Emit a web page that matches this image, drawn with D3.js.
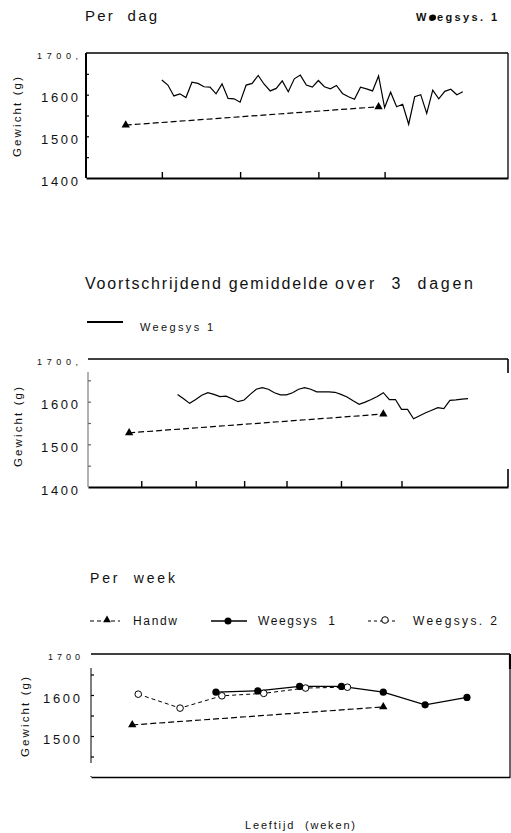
<!DOCTYPE html>
<html>
<head>
<meta charset="utf-8">
<script src="https://cdn.jsdelivr.net/npm/d3@7"></script>
<style>
body { margin: 0; background: #fff; }
svg { display: block; font-family: "Liberation Sans", Arial, sans-serif; }
</style>
</head>
<body>
<div id="chart"></div>
<script>
// days are counted from the first hand weighing (Handw)
const handwDays = [0, 42];
const handwValues = [1527, 1571];

// Weegsys 1, one value per day, days 6 .. 56
const dailyDays = d3.range(6, 57);
const dailyValues = [
    1635, 1623, 1597, 1602, 1593, 1630, 1627, 1619, 1618, 1602,
    1626, 1591, 1590, 1582, 1623, 1627, 1646, 1625, 1609, 1615,
    1633, 1607, 1638, 1647, 1623, 1618, 1634, 1619, 1614, 1622,
    1603, 1595, 1589, 1618, 1614, 1609, 1645, 1569, 1606, 1571,
    1577, 1529, 1595, 1600, 1555, 1611, 1590, 1608, 1613, 1600, 1607
];

// Weegsys 1, 3-day moving average, days 8 .. 56
const avgDays = d3.range(8, 57);
const avgValues = [
    1617, 1607, 1596, 1605, 1615, 1621, 1617, 1612, 1613, 1607,
    1600, 1604, 1617, 1629, 1633, 1629, 1621, 1616, 1616, 1621,
    1629, 1633, 1629, 1623, 1623, 1623, 1622, 1617, 1611, 1602,
    1594, 1599, 1605, 1612, 1621, 1605, 1605, 1582, 1582, 1560,
    1567, 1574, 1580, 1586, 1584, 1603, 1604, 1606, 1607
];

// per week
const w1Days = [14, 21, 28, 35, 42, 49, 56];
const w1Values = [1607, 1610, 1621, 1621, 1607, 1576, 1594];
const w2Days = [1, 8, 15, 22, 29, 36];
const w2Values = [1602, 1568, 1598, 1604, 1617, 1619];

// axes
const yDomain = [1400, 1700];
const yMinorTicks = [1450, 1500, 1550, 1600, 1650];
const yLabels1 = [1400, 1500, 1600, 1700];
const yLabels3 = [1500, 1600, 1700];
const xTicks1 = [6, 19, 32, 43];
const xTicks2 = [2, 11, 19, 26, 35, 45];

const svg = d3.select("#chart").append("svg")
    .attr("width", 511)
    .attr("height", 833);

svg.append("rect").attr("width", 511).attr("height", 833).attr("fill", "#fff");

function addText(x, y, str, size, len, extra) {
    const t = svg.append("text")
        .attr("x", x)
        .attr("y", y)
        .attr("font-size", size)
        .attr("fill", "#111")
        .style("white-space", "pre")
        .text(str);
    if (len) t.attr("textLength", len).attr("lengthAdjust", "spacing");
    if (extra) extra(t);
    return t;
}

function yTitle(cx, cy) {
    svg.append("text")
        .attr("transform", `translate(${cx},${cy}) rotate(-90)`)
        .attr("text-anchor", "middle")
        .attr("dy", "0.35em")
        .attr("font-size", 11.5)
        .attr("fill", "#111")
        .attr("textLength", 80)
        .attr("lengthAdjust", "spacing")
        .text("Gewicht (g)");
}

function drawPanel(cfg) {
    const x = d3.scaleLinear().domain(cfg.xDomain).range([cfg.left, cfg.right]);
    const y = d3.scaleLinear().domain(yDomain).range([cfg.bottom, cfg.top]);

    // frame: top and right
    svg.append("line")
        .attr("x1", cfg.left).attr("x2", cfg.right)
        .attr("y1", cfg.top).attr("y2", cfg.top)
        .attr("stroke", "#000").attr("stroke-width", 1.3);
    cfg.rightSegs.forEach(s => {
        svg.append("line")
            .attr("x1", cfg.right).attr("x2", cfg.right)
            .attr("y1", s[0]).attr("y2", s[1])
            .attr("stroke", "#000").attr("stroke-width", s[2] || 1.3);
    });

    // left axis line
    svg.append("line")
        .attr("x1", cfg.left).attr("x2", cfg.left)
        .attr("y1", cfg.axisTop).attr("y2", cfg.bottom)
        .attr("stroke", cfg.axisColor).attr("stroke-width", cfg.axisWidth);

    // minor y ticks
    svg.append("g")
        .attr("transform", `translate(${cfg.left},0)`)
        .call(d3.axisRight(y).tickValues(yMinorTicks).tickSize(3).tickFormat(""))
        .call(a => a.select(".domain").remove())
        .selectAll("line").attr("stroke", cfg.axisColor).attr("stroke-width", 1.2);

    // y labels
    svg.append("g")
        .attr("transform", `translate(${cfg.labelRight},3)`)
        .call(d3.axisLeft(y).tickValues(cfg.yLabels).tickSize(0).tickPadding(0)
            .tickFormat(d => d === 1700 ? cfg.topLabel : d))
        .call(a => a.select(".domain").remove())
        .attr("font-family", null)
        .attr("font-size", null)
        .selectAll("text")
        .attr("fill", "#111")
        .attr("font-size", d => d === 1700 ? 9 : 13)
        .attr("textLength", d => d === 1700 ? cfg.topLabelLen : 37)
        .attr("lengthAdjust", "spacing");

    // x axis: bottom line with upward ticks
    svg.append("g")
        .attr("transform", `translate(0,${cfg.bottom})`)
        .call(d3.axisBottom(x).tickValues(cfg.xTicks).tickSize(-6).tickSizeOuter(0).tickFormat(""))
        .call(a => a.select(".domain").attr("stroke-width", cfg.bottomWidth))
        .selectAll("line").attr("stroke-width", 1.4);

    return { x, y };
}

function handwSeries(p) {
    const line = d3.line().x(d => p.x(d[0])).y(d => p.y(d[1]));
    svg.append("path")
        .datum(d3.zip(handwDays, handwValues))
        .attr("d", line)
        .attr("fill", "none")
        .attr("stroke", "#000")
        .attr("stroke-width", 1.2)
        .attr("stroke-dasharray", "6,3");
    svg.selectAll(null)
        .data(d3.zip(handwDays, handwValues))
        .enter().append("path")
        .attr("transform", d => `translate(${p.x(d[0])},${p.y(d[1])})`)
        .attr("d", d3.symbol(d3.symbolTriangle, 30))
        .attr("fill", "#000");
}

// ---------- panel 1: per dag ----------
addText(85, 21, "Per  dag", 15, 72);
addText(416, 21, "Weegsys. 1", 11, 81, t => t.attr("font-weight", "bold"));
svg.append("circle").attr("cx", 433).attr("cy", 17.5).attr("r", 3).attr("fill", "#000");
yTitle(17, 117);

const p1 = drawPanel({
    left: 86, right: 508, top: 53, bottom: 178, axisTop: 53,
    xDomain: [-6.6, 63.5], xTicks: xTicks1,
    rightSegs: [[53, 178]],
    axisColor: "#000", axisWidth: 2, bottomWidth: 2.2,
    labelRight: 78, yLabels: yLabels1, topLabel: "1700,", topLabelLen: 41
});
svg.append("path")
    .datum(d3.zip(dailyDays, dailyValues))
    .attr("d", d3.line().x(d => p1.x(d[0])).y(d => p1.y(d[1])))
    .attr("fill", "none")
    .attr("stroke", "#000")
    .attr("stroke-width", 1.2);
handwSeries(p1);

// ---------- panel 2: voortschrijdend gemiddelde ----------
addText(85, 289, "Voortschrijdend gemiddelde", 16, 243);
addText(335, 289, "over  3  dagen", 16, 138);
svg.append("line")
    .attr("x1", 87).attr("x2", 123).attr("y1", 322).attr("y2", 322)
    .attr("stroke", "#000").attr("stroke-width", 1.8);
addText(140, 331, "Weegsys 1", 11, 73);
yTitle(18, 427);

const p2 = drawPanel({
    left: 88, right: 508, top: 359, bottom: 487, axisTop: 372,
    xDomain: [-6.8, 62.6], xTicks: xTicks2,
    rightSegs: [[359, 373, 1.6], [469, 487, 1.6]],
    axisColor: "#666", axisWidth: 1, bottomWidth: 2,
    labelRight: 78, yLabels: yLabels1, topLabel: "1700,", topLabelLen: 41
});
svg.append("path")
    .datum(d3.zip(avgDays, avgValues))
    .attr("d", d3.line().x(d => p2.x(d[0])).y(d => p2.y(d[1])))
    .attr("fill", "none")
    .attr("stroke", "#000")
    .attr("stroke-width", 1.2);
handwSeries(p2);

// ---------- panel 3: per week ----------
addText(90, 583, "Per  week", 14, 85);

// legend
svg.append("line").attr("x1", 90).attr("x2", 120).attr("y1", 621).attr("y2", 621)
    .attr("stroke", "#000").attr("stroke-width", 1.2).attr("stroke-dasharray", "4,3");
svg.append("path").attr("transform", "translate(107,620)")
    .attr("d", d3.symbol(d3.symbolTriangle, 26)).attr("fill", "#000");
addText(133, 625, "Handw", 12, 44);

svg.append("line").attr("x1", 211).attr("x2", 247).attr("y1", 621).attr("y2", 621)
    .attr("stroke", "#000").attr("stroke-width", 1.4);
svg.append("circle").attr("cx", 228).attr("cy", 621).attr("r", 3.5).attr("fill", "#000");
addText(258, 625, "Weegsys  1", 12, 77);

svg.append("line").attr("x1", 368).attr("x2", 398).attr("y1", 621).attr("y2", 621)
    .attr("stroke", "#000").attr("stroke-width", 1).attr("stroke-dasharray", "3,3");
svg.append("circle").attr("cx", 385).attr("cy", 620).attr("r", 3.3)
    .attr("fill", "#fff").attr("stroke", "#000").attr("stroke-width", 1);
addText(413, 625, "Weegsys. 2", 12, 84);

yTitle(25, 717);

const p3 = drawPanel({
    left: 91, right: 510, top: 654, bottom: 777, axisTop: 668,
    xDomain: [-6.9, 63.2], xTicks: [],
    rightSegs: [[654, 777, 1.2], [654, 669, 2.2]],
    axisColor: "#000", axisWidth: 1, bottomWidth: 1.5,
    labelRight: 80, yLabels: yLabels3, topLabel: "1700", topLabelLen: 32
});
// axis ends above the bottom line in the reference
svg.append("line").attr("x1", 91).attr("x2", 91).attr("y1", 763).attr("y2", 776)
    .attr("stroke", "#fff").attr("stroke-width", 2);

const lineW = d3.line().x(d => p3.x(d[0])).y(d => p3.y(d[1]));

handwSeries(p3);

svg.append("path")
    .datum(d3.zip(w2Days, w2Values))
    .attr("d", lineW)
    .attr("fill", "none")
    .attr("stroke", "#000")
    .attr("stroke-width", 1)
    .attr("stroke-dasharray", "4,3");

svg.append("path")
    .datum(d3.zip(w1Days, w1Values))
    .attr("d", lineW)
    .attr("fill", "none")
    .attr("stroke", "#000")
    .attr("stroke-width", 1.3);

svg.selectAll(".w2")
    .data(d3.zip(w2Days, w2Values))
    .enter().append("circle")
    .attr("class", "w2")
    .attr("cx", d => p3.x(d[0]))
    .attr("cy", d => p3.y(d[1]))
    .attr("r", 3.3)
    .attr("fill", "#fff")
    .attr("stroke", "#000")
    .attr("stroke-width", 1);

svg.selectAll(".w1")
    .data(d3.zip(w1Days, w1Values))
    .enter().append("circle")
    .attr("class", "w1")
    .attr("cx", d => p3.x(d[0]))
    .attr("cy", d => p3.y(d[1]))
    .attr("r", 3.6)
    .attr("fill", "#000");

addText(245, 829, "Leeftijd  (weken)", 11, 110);
</script>
</body>
</html>
